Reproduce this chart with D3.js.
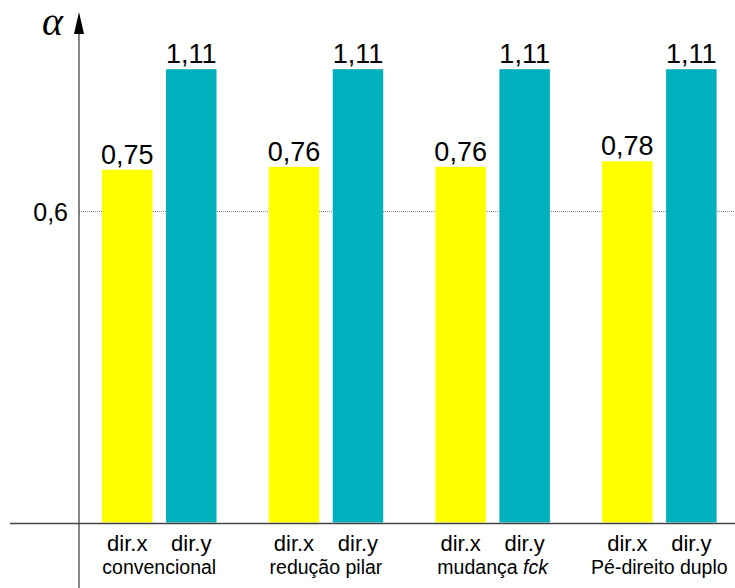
<!DOCTYPE html>
<html>
<head>
<meta charset="utf-8">
<script src="https://cdn.jsdelivr.net/npm/d3@7"></script>
<style>
  html, body { margin: 0; padding: 0; background: #fff; }
  svg { display: block; font-family: "Liberation Sans", Arial, sans-serif; }
</style>
</head>
<body>
<svg id="chart" width="735" height="588"></svg>
<script>
const categories = ["convencional", "redução pilar", "mudança fck", "Pé-direito duplo"];
const directions = ["dir.x", "dir.y"];
const dirX = [0.75, 0.76, 0.76, 0.78];
const dirY = [1.11, 1.11, 1.11, 1.11];
const yTicks = [0.6];

const svg = d3.select("#chart");
const W = 735, H = 588;
const axisX = 79, baseY = 523.5;

const fmt = v => d3.format(".2f")(v).replace(".", ",");
const fmtTick = v => String(v).replace(".", ",");

// y scale: linear, fitted to tick 0,6 and the 1,11 bars
const y = d3.scaleLinear().domain([0.6, 1.11]).range([211.5, 69.2]);

// x scales
const groupStep = 166.7, groupStart = 89, inner = 13;
const x0 = d3.scaleBand().domain(categories).range([groupStart, groupStart + 4 * groupStep]);
const x1 = d3.scaleBand().domain(directions).range([inner, inner + 114.5]).paddingInner(13.5 / 64);
const colors = d3.scaleOrdinal().domain(directions).range(["#ffff00", "#00b0bc"]);

const rows = categories.map((c, i) => ({ cat: c, vals: [
  { dir: "dir.x", v: dirX[i] }, { dir: "dir.y", v: dirY[i] } ] }));

// gridline
svg.append("g").selectAll("line").data(yTicks).join("line")
  .attr("x1", axisX).attr("x2", W)
  .attr("y1", d => y(d)).attr("y2", d => y(d))
  .attr("stroke", "#8a8a8a").attr("stroke-width", 1).attr("stroke-dasharray", "1,1");

// bars
const g = svg.append("g").selectAll("g").data(rows).join("g")
  .attr("transform", d => `translate(${x0(d.cat)},0)`);
g.selectAll("rect").data(d => d.vals).join("rect")
  .attr("x", d => x1(d.dir))
  .attr("y", d => y(d.v))
  .attr("width", x1.bandwidth())
  .attr("height", d => baseY - 1 - y(d.v))
  .attr("fill", d => colors(d.dir));
g.selectAll("text.val").data(d => d.vals).join("text").attr("class", "val")
  .attr("x", d => x1(d.dir) + x1.bandwidth() / 2)
  .attr("y", d => y(d.v) - 6)
  .attr("text-anchor", "middle")
  .attr("font-size", 27)
  .attr("fill", "#000")
  .text(d => fmt(d.v));
g.selectAll("text.dir").data(d => d.vals).join("text").attr("class", "dir")
  .attr("x", d => x1(d.dir) + x1.bandwidth() / 2)
  .attr("y", 551)
  .attr("text-anchor", "middle")
  .attr("font-size", 22)
  .attr("fill", "#000")
  .text(d => d.dir);

// category labels
const catText = g.append("text")
  .attr("x", inner + 114.5 / 2)
  .attr("y", 574)
  .attr("text-anchor", "middle")
  .attr("font-size", 19.5)
  .attr("fill", "#000");
catText.each(function(d) {
  const t = d3.select(this);
  if (d.cat === "mudança fck") {
    t.append("tspan").text("mudança ");
    t.append("tspan").attr("font-style", "italic").text("fck");
  } else {
    t.text(d.cat);
  }
});

// baseline
svg.append("line").attr("x1", 10).attr("x2", W).attr("y1", baseY).attr("y2", baseY)
  .attr("stroke", "#444").attr("stroke-width", 1.3);

// y axis line
svg.append("line").attr("x1", axisX).attr("x2", axisX).attr("y1", 30).attr("y2", H)
  .attr("stroke", "#444").attr("stroke-width", 1.3);
// arrow head
svg.append("path").attr("d", `M${axisX},12 L${axisX - 5},34 L${axisX + 5},34 Z`).attr("fill", "#000");

// tick labels
svg.append("g").selectAll("text").data(yTicks).join("text")
  .attr("x", 68).attr("y", d => y(d) + 9)
  .attr("text-anchor", "end")
  .attr("font-size", 25)
  .attr("fill", "#000")
  .text(d => fmtTick(d));

// alpha label
svg.append("text").attr("x", 42).attr("y", 35)
  .attr("font-family", "'Liberation Serif', 'DejaVu Serif', serif")
  .attr("font-style", "italic")
  .attr("font-size", 40)
  .attr("fill", "#000")
  .text("α");
</script>
</body>
</html>
